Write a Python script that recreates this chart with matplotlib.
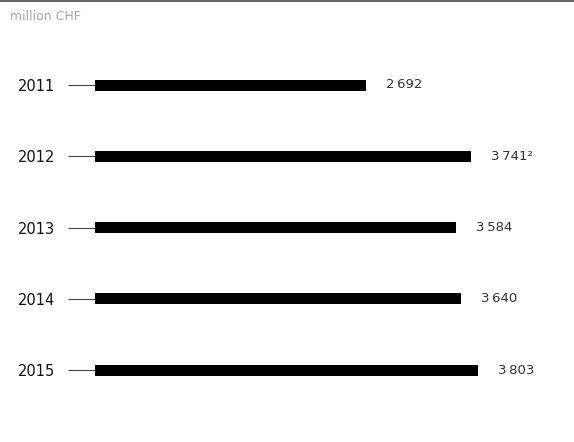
import matplotlib
matplotlib.use("Agg")
import matplotlib.pyplot as plt

years = ["2011", "2012", "2013", "2014", "2015"]
values = [2692, 3741, 3584, 3640, 3803]
footnotes = ["", "²", "", "", ""]
unit_label = "million CHF"

W, H = 574, 442
fig = plt.figure(figsize=(W / 100, H / 100), dpi=100)

# axes: left edge at bar origin (x=95px), full height
ax = fig.add_axes([95 / W, 0, (W - 95) / W, 1])
xmax = (W - 95) / 0.1006
ax.set_xlim(0, xmax)
step = 71.25
top_c = 85
ax.set_ylim((H - top_c) / step, -top_c / step)

ypos = list(range(len(years)))
ax.barh(ypos, values, height=11 / step, color="black", zorder=3)

for y, v, fn in zip(ypos, values, footnotes):
    s = f"{v:,}".replace(",", "\u2009") + fn
    ax.annotate(s, (v, y), xytext=(20 * 0.72, 0), textcoords="offset points",
                va="center", ha="left", fontsize=9.5, color="#333333")

ax.set_yticks(ypos)
ax.set_yticklabels(years, fontsize=10.5, color="#111111")
ax.tick_params(axis="y", length=27 * 0.72, width=0.8, color="#444444", pad=13 * 0.72)
ax.set_xticks([])
for sp in ax.spines.values():
    sp.set_visible(False)

# top rule and unit label
fig.add_artist(plt.Line2D([0, 1], [1 - 1 / H, 1 - 1 / H], color="#666666", lw=1.5))
fig.text(10 / W, 1 - 17 / H, unit_label, fontsize=9, color="#aaaaaa", va="center", ha="left")

fig.savefig("out.png", dpi=100)
